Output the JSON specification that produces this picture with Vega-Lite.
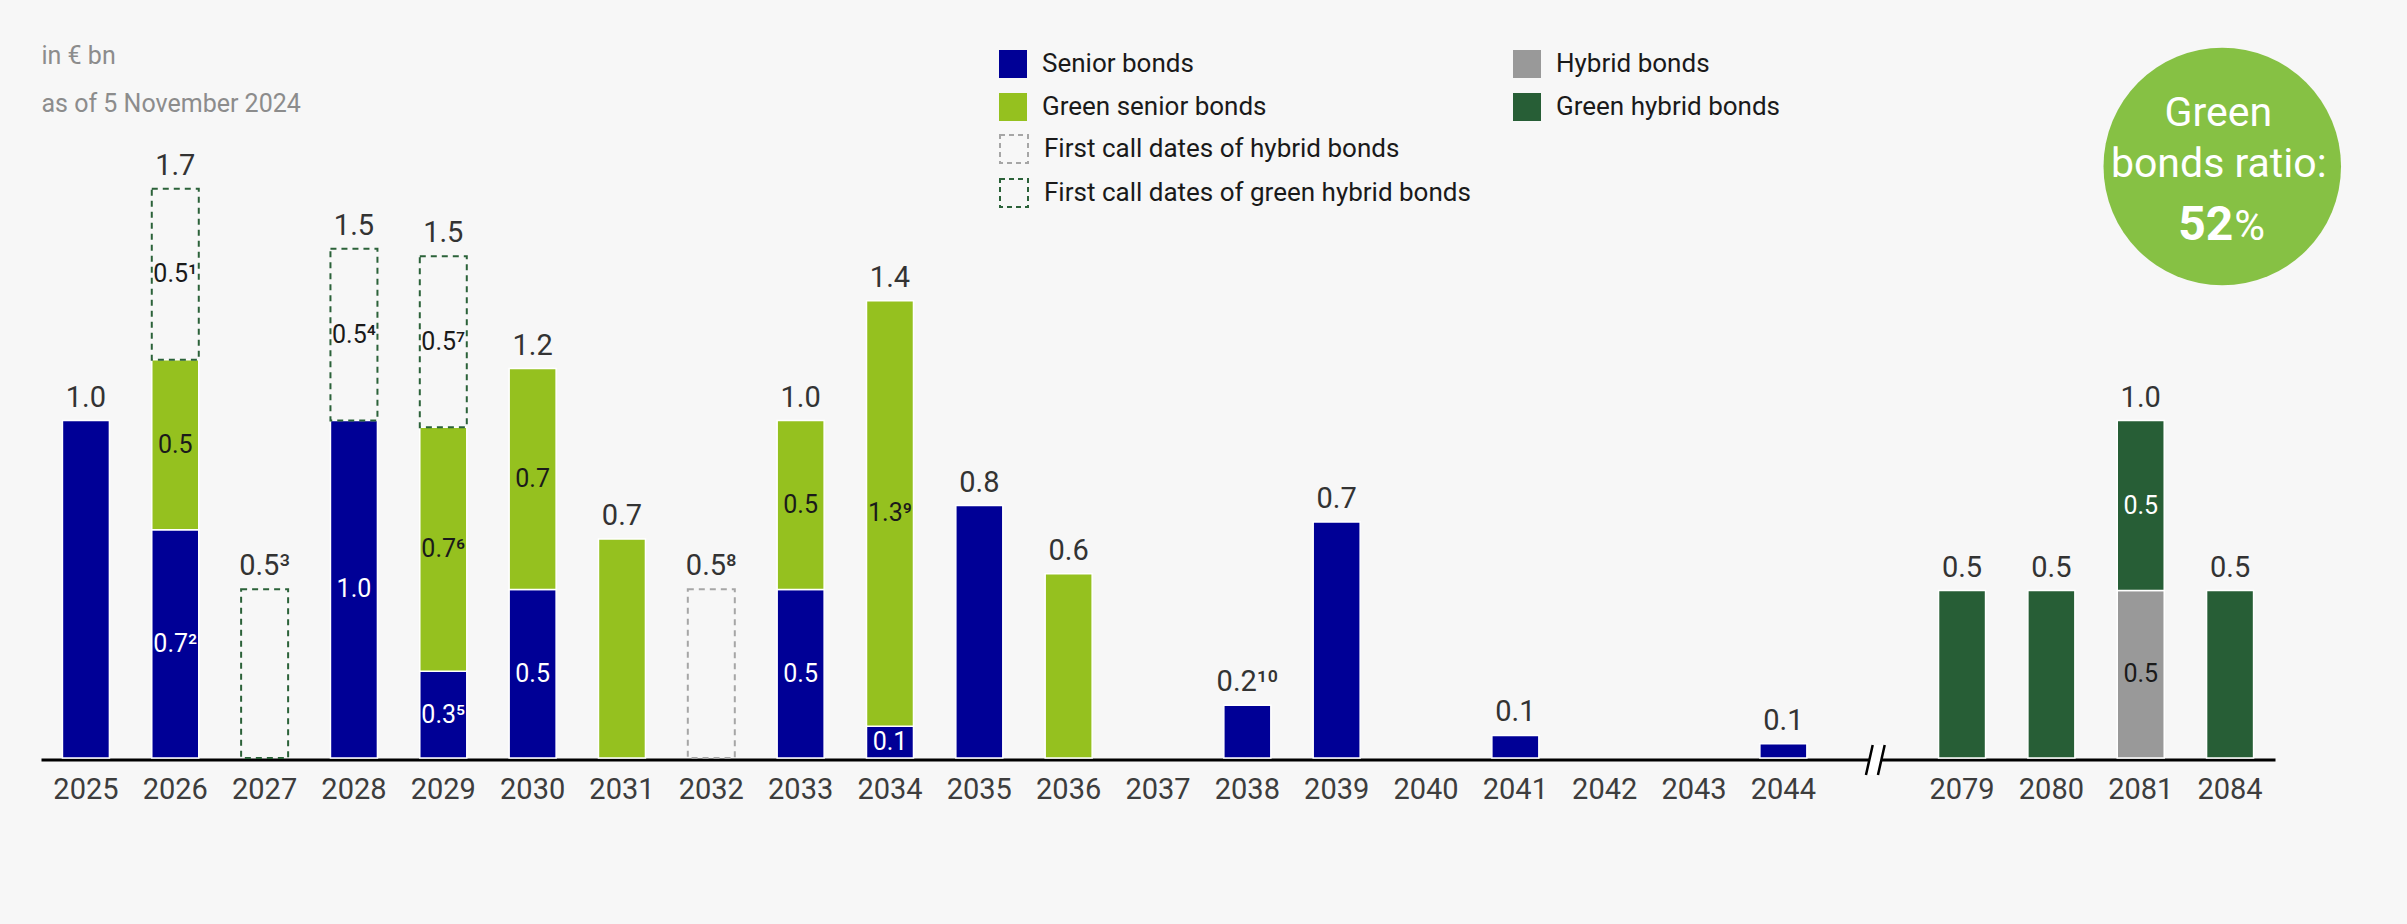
{
  "$schema": "https://vega.github.io/schema/vega-lite/v6.json",
  "width": 2234,
  "height": 675,
  "autosize": {"type": "none"},
  "padding": {"left": 41, "top": 83, "right": 132, "bottom": 166},
  "background": "#f7f7f7",
  "config": {"view": {"stroke": null}, "font": "Roboto"},
  "datasets": {
    "segments": [
      {"year": "2025", "type": "Senior bonds", "value": 1.0, "label": ""},
      {"year": "2026", "type": "Senior bonds", "value": 0.676, "label": "0.7²"},
      {"year": "2026", "type": "Green senior bonds", "value": 0.504, "label": "0.5"},
      {"year": "2026", "type": "First call dates of green hybrid bonds", "value": 0.507, "label": "0.5¹"},
      {"year": "2027", "type": "First call dates of green hybrid bonds", "value": 0.5, "label": ""},
      {"year": "2028", "type": "Senior bonds", "value": 1.0, "label": "1.0"},
      {"year": "2028", "type": "First call dates of green hybrid bonds", "value": 0.509, "label": "0.5⁴"},
      {"year": "2029", "type": "Senior bonds", "value": 0.257, "label": "0.3⁵"},
      {"year": "2029", "type": "Green senior bonds", "value": 0.723, "label": "0.7⁶"},
      {"year": "2029", "type": "First call dates of green hybrid bonds", "value": 0.507, "label": "0.5⁷"},
      {"year": "2030", "type": "Senior bonds", "value": 0.499, "label": "0.5"},
      {"year": "2030", "type": "Green senior bonds", "value": 0.655, "label": "0.7"},
      {"year": "2031", "type": "Green senior bonds", "value": 0.649, "label": ""},
      {"year": "2032", "type": "First call dates of hybrid bonds", "value": 0.5, "label": ""},
      {"year": "2033", "type": "Senior bonds", "value": 0.499, "label": "0.5"},
      {"year": "2033", "type": "Green senior bonds", "value": 0.501, "label": "0.5"},
      {"year": "2034", "type": "Senior bonds", "value": 0.094, "label": "0.1"},
      {"year": "2034", "type": "Green senior bonds", "value": 1.261, "label": "1.3⁹"},
      {"year": "2035", "type": "Senior bonds", "value": 0.748, "label": ""},
      {"year": "2036", "type": "Green senior bonds", "value": 0.546, "label": ""},
      {"year": "2038", "type": "Senior bonds", "value": 0.156, "label": ""},
      {"year": "2039", "type": "Senior bonds", "value": 0.699, "label": ""},
      {"year": "2041", "type": "Senior bonds", "value": 0.067, "label": ""},
      {"year": "2044", "type": "Senior bonds", "value": 0.042, "label": ""},
      {"year": "2079", "type": "Green hybrid bonds", "value": 0.496, "label": ""},
      {"year": "2080", "type": "Green hybrid bonds", "value": 0.496, "label": ""},
      {"year": "2081", "type": "Hybrid bonds", "value": 0.496, "label": "0.5"},
      {"year": "2081", "type": "Green hybrid bonds", "value": 0.504, "label": "0.5"},
      {"year": "2084", "type": "Green hybrid bonds", "value": 0.496, "label": ""}
    ],
    "totals": [
      {"year": "2025", "tlabel": "1.0"},
      {"year": "2026", "tlabel": "1.7"},
      {"year": "2027", "tlabel": "0.5³"},
      {"year": "2028", "tlabel": "1.5"},
      {"year": "2029", "tlabel": "1.5"},
      {"year": "2030", "tlabel": "1.2"},
      {"year": "2031", "tlabel": "0.7"},
      {"year": "2032", "tlabel": "0.5⁸"},
      {"year": "2033", "tlabel": "1.0"},
      {"year": "2034", "tlabel": "1.4"},
      {"year": "2035", "tlabel": "0.8"},
      {"year": "2036", "tlabel": "0.6"},
      {"year": "2038", "tlabel": "0.2¹⁰"},
      {"year": "2039", "tlabel": "0.7"},
      {"year": "2041", "tlabel": "0.1"},
      {"year": "2044", "tlabel": "0.1"},
      {"year": "2079", "tlabel": "0.5"},
      {"year": "2080", "tlabel": "0.5"},
      {"year": "2081", "tlabel": "1.0"},
      {"year": "2084", "tlabel": "0.5"}
    ],
    "ratio": [{"line1": "Green", "line2": "bonds ratio:", "num": "52", "unit": "%"}],
    "axisbreak": [{"year": "break"}]
  },
  "layer": [
    {
      "data": {"name": "segments"},
      "mark": {"type": "bar", "opacity": 1},
      "encoding": {
        "x": {
          "field": "year", "type": "nominal",
          "scale": {"domain": ["2025","2026","2027","2028","2029","2030","2031","2032","2033","2034","2035","2036","2037","2038","2039","2040","2041","2042","2043","2044","break","2079","2080","2081","2084"], "paddingInner": 0.474, "paddingOuter": 0.24},
          "axis": {"title": null, "labelExpr": "datum.value === 'break' ? '' : datum.label", "labelFontSize": 29, "labelColor": "#3d3d3d", "labelFont": "Roboto", "labelPadding": 16, "ticks": false, "tickSize": 0, "domainColor": "#000000", "domainWidth": 3, "offset": 1.5, "zindex": 0, "labelAngle": 0, "grid": false}
        },
        "y": {
          "field": "value", "type": "quantitative", "stack": "zero",
          "scale": {"domain": [0, 2], "nice": false},
          "axis": {"title": ["in € bn", "as of 5 November 2024"], "labels": false, "ticks": false, "tickSize": 0, "domain": false, "grid": false, "titleAngle": 0, "titleX": 0, "titleY": -20, "titleAlign": "left", "titleBaseline": "alphabetic", "titleLineHeight": 48, "titleFontSize": 25, "titleFontWeight": "normal", "titleColor": "#8c8c8c", "titleFont": "Roboto"}
        },
        "color": {
          "field": "type", "type": "nominal",
          "scale": {"domain": ["Senior bonds","Green senior bonds","Hybrid bonds","Green hybrid bonds","First call dates of hybrid bonds","First call dates of green hybrid bonds"], "range": ["#000096","#95c11f","#999999","#275e36","transparent","transparent"]},
          "legend": {"values": ["Senior bonds","Green senior bonds","Hybrid bonds","Green hybrid bonds"], "title": null, "orient": "none", "legendX": 958, "legendY": -33, "columns": 2, "columnPadding": 246, "rowPadding": 15, "symbolType": "square", "symbolSize": 784, "symbolStrokeWidth": 0, "labelFontSize": 26, "labelColor": "#1a1a1a", "labelFont": "Roboto", "labelOffset": 15, "labelLimit": 0, "padding": 0}
        },
        "stroke": {
          "field": "type", "type": "nominal",
          "scale": {"domain": ["First call dates of hybrid bonds","First call dates of green hybrid bonds","Senior bonds","Green senior bonds","Hybrid bonds","Green hybrid bonds"], "range": ["#a6a6a6","#2b6239","#ffffff","#ffffff","#ffffff","#ffffff"]},
          "legend": {"values": ["First call dates of hybrid bonds","First call dates of green hybrid bonds"], "title": null, "orient": "none", "legendX": 958, "legendY": 51, "rowPadding": 8, "symbolType": "square", "symbolSize": 784, "symbolStrokeWidth": 2, "symbolDash": [5, 4], "symbolFillColor": "transparent", "labelFontSize": 26, "labelColor": "#1a1a1a", "labelFont": "Roboto", "labelOffset": 15, "labelLimit": 0, "padding": 0,
            "encode": {"symbols": {"update": {"fill": {"value": "transparent"}}}}}
        },
        "strokeDash": {"condition": {"test": "indexof(datum.type, 'First call') === 0", "value": [6, 5]}, "value": [1, 0]},
        "strokeWidth": {"condition": {"test": "indexof(datum.type, 'First call') === 0", "value": 2}, "value": 1.5},
        "order": {"field": "type", "sort": "descending"}
      }
    },
    {
      "data": {"name": "segments"},
      "mark": {"type": "text", "fontSize": 25, "baseline": "middle", "align": "center"},
      "encoding": {
        "x": {"field": "year", "type": "nominal", "scale": {"domain": ["2025","2026","2027","2028","2029","2030","2031","2032","2033","2034","2035","2036","2037","2038","2039","2040","2041","2042","2043","2044","break","2079","2080","2081","2084"], "paddingInner": 0.474, "paddingOuter": 0.24}},
        "y": {"field": "value", "type": "quantitative", "stack": "zero", "bandPosition": 0.5},
        "detail": {"field": "type"},
        "order": {"field": "type", "sort": "descending"},
        "text": {"field": "label"},
        "color": {"condition": {"test": "datum.type === 'Senior bonds' || datum.type === 'Green hybrid bonds'", "value": "#ffffff"}, "value": "#1a1a1a"}
      }
    },
    {
      "data": {"name": "segments"},
      "transform": [
        {"aggregate": [{"op": "sum", "field": "value", "as": "total"}], "groupby": ["year"]},
        {"lookup": "year", "from": {"data": {"name": "totals"}, "key": "year", "fields": ["tlabel"]}}
      ],
      "mark": {"type": "text", "fontSize": 29, "color": "#333333", "baseline": "alphabetic", "align": "center", "dy": -14},
      "encoding": {
        "x": {"field": "year", "type": "nominal", "scale": {"domain": ["2025","2026","2027","2028","2029","2030","2031","2032","2033","2034","2035","2036","2037","2038","2039","2040","2041","2042","2043","2044","break","2079","2080","2081","2084"], "paddingInner": 0.474, "paddingOuter": 0.24}},
        "y": {"field": "total", "type": "quantitative"},
        "text": {"field": "tlabel"}
      }
    },
    {
      "data": {"name": "axisbreak"},
      "mark": {"type": "point", "shape": "M-0.45,1L0,-1L0.8,-1L0.35,1Z", "filled": true, "color": "#ffffff", "size": 900, "opacity": 1, "strokeWidth": 0, "yOffset": 2},
      "encoding": {
        "x": {"field": "year", "type": "nominal", "scale": {"domain": ["2025","2026","2027","2028","2029","2030","2031","2032","2033","2034","2035","2036","2037","2038","2039","2040","2041","2042","2043","2044","break","2079","2080","2081","2084"], "paddingInner": 0.474, "paddingOuter": 0.24}},
        "y": {"datum": 0}
      }
    },
    {
      "data": {"name": "axisbreak"},
      "mark": {"type": "point", "shape": "M-0.45,1L0,-1M0.35,1L0.8,-1", "filled": false, "color": "#000000", "size": 900, "opacity": 1, "strokeWidth": 2.5, "yOffset": 2},
      "encoding": {
        "x": {"field": "year", "type": "nominal", "scale": {"domain": ["2025","2026","2027","2028","2029","2030","2031","2032","2033","2034","2035","2036","2037","2038","2039","2040","2041","2042","2043","2044","break","2079","2080","2081","2084"], "paddingInner": 0.474, "paddingOuter": 0.24}},
        "y": {"datum": 0}
      }
    },
    {
      "data": {"name": "ratio"},
      "mark": {"type": "point", "shape": "circle", "filled": true, "color": "#86c144", "size": 56410, "opacity": 1, "strokeWidth": 0},
      "encoding": {
        "x": {"datum": "2084", "bandPosition": 0.334},
        "y": {"datum": 1.7526}
      }
    },
    {
      "data": {"name": "ratio"},
      "mark": {"type": "text", "color": "#ffffff", "fontSize": 41, "align": "center", "baseline": "alphabetic", "dy": -40.5, "dx": -4},
      "encoding": {
        "x": {"datum": "2084", "bandPosition": 0.334},
        "y": {"datum": 1.7526},
        "text": {"field": "line1"}
      }
    },
    {
      "data": {"name": "ratio"},
      "mark": {"type": "text", "color": "#ffffff", "fontSize": 41, "align": "center", "baseline": "alphabetic", "dy": 10.2, "dx": -3.5},
      "encoding": {
        "x": {"datum": "2084", "bandPosition": 0.334},
        "y": {"datum": 1.7526},
        "text": {"field": "line2"}
      }
    },
    {
      "data": {"name": "ratio"},
      "mark": {"type": "text", "color": "#ffffff", "fontSize": 48, "fontWeight": "bold", "align": "right", "baseline": "alphabetic", "dy": 73.5, "dx": 11},
      "encoding": {
        "x": {"datum": "2084", "bandPosition": 0.334},
        "y": {"datum": 1.7526},
        "text": {"field": "num"}
      }
    },
    {
      "data": {"name": "ratio"},
      "mark": {"type": "text", "color": "#ffffff", "fontSize": 42, "align": "left", "baseline": "alphabetic", "dy": 73.5, "dx": 12},
      "encoding": {
        "x": {"datum": "2084", "bandPosition": 0.334},
        "y": {"datum": 1.7526},
        "text": {"field": "unit"}
      }
    }
  ]
}
